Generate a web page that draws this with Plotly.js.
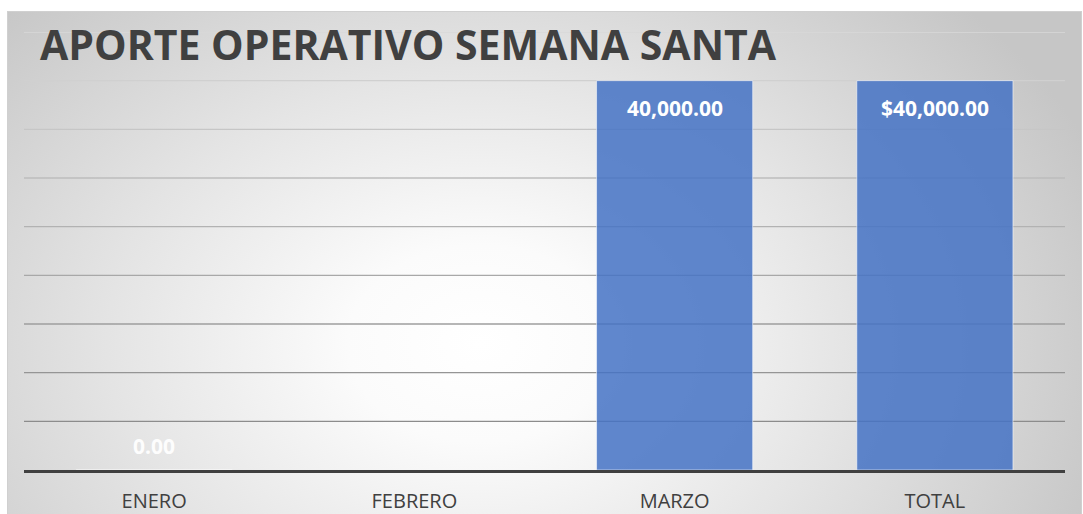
<!DOCTYPE html>
<html>
<head>
<meta charset="utf-8">
<script src="https://cdn.plot.ly/plotly-3.0.1.min.js"></script>
<style>
  html, body { margin: 0; padding: 0; background: #ffffff; }
  #frame {
    position: absolute; left: 7px; top: 11px; width: 1075px; height: 520px;
    border: 1px solid #d0d0d0; box-sizing: border-box;
    background: radial-gradient(ellipse 62% 95% at 44% 64%, #ffffff 0%, #fbfbfb 20%, #e4e4e4 56%, #c6c6c6 100%);
  }
  #chart { position: absolute; left: 0; top: 0; width: 1083px; height: 514px; }
</style>
</head>
<body>
<div id="frame"></div>
<div id="chart"></div>
<script>
const categories = ['ENERO', 'FEBRERO', 'MARZO', 'TOTAL'];
const values = [0, null, 40000, 40000];
const labels = ['0.00', '', '40,000.00', '$40,000.00'];
const gridTicks = [5000, 10000, 15000, 20000, 25000, 30000, 35000, 40000, 45000];
const titleText = 'APORTE OPERATIVO SEMANA SANTA';

// gridline colors: lighter toward the top, darker toward the bottom
const gridColors = ['#8c8c8c', '#959595', '#9e9e9e', '#a8a8a8', '#b2b2b2', '#bcbcbc', '#c6c6c6', '#d0d0d0', '#d8d8d8'];

const shapes = gridTicks.map((t, i) => ({
  type: 'line', xref: 'paper', yref: 'y', x0: 0, x1: 1, y0: t, y1: t,
  line: { color: gridColors[i], width: 1.3 }, layer: 'below'
}));

const annotations = [];
categories.forEach((c, i) => {
  if (values[i] === null || labels[i] === '') return;
  const zero = values[i] === 0;
  annotations.push({
    x: c, y: values[i], xref: 'x', yref: 'y',
    text: labels[i], showarrow: false,
    yanchor: zero ? 'bottom' : 'top',
    yshift: zero ? 8 : -11,
    font: { family: 'Open Sans', size: 21, color: zero ? 'rgba(255,255,255,0.95)' : '#ffffff', weight: 'bold' }
  });
});

const trace = {
  type: 'bar', x: categories, y: values,
  marker: { color: 'rgba(68,114,196,0.85)', line: { color: 'rgba(255,255,255,0.55)', width: 1 } },
  width: 0.6, hoverinfo: 'none'
};

const layout = {
  width: 1083, height: 514,
  margin: { l: 24, r: 18, t: 32, b: 44 },
  paper_bgcolor: 'rgba(0,0,0,0)', plot_bgcolor: 'rgba(0,0,0,0)',
  showlegend: false,
  title: {
    text: titleText, xref: 'container', yref: 'container',
    x: 40 / 1083, xanchor: 'left', y: 1 - 46 / 514, yanchor: 'middle',
    font: { family: 'Open Sans', size: 41, color: '#404040', weight: 'bold' }
  },
  xaxis: {
    type: 'category', showgrid: false, zeroline: false,
    showline: true, linecolor: '#404040', linewidth: 3,
    ticks: '', ticklabelstandoff: 11,
    tickfont: { family: 'Open Sans', size: 20, color: '#404040' }
  },
  yaxis: {
    range: [0, 45000], showgrid: false, zeroline: false, showticklabels: false,
    ticks: '', fixedrange: true
  },
  shapes: shapes,
  annotations: annotations
};

Plotly.newPlot('chart', [trace], layout, { displayModeBar: false, staticPlot: true });
</script>
</body>
</html>
